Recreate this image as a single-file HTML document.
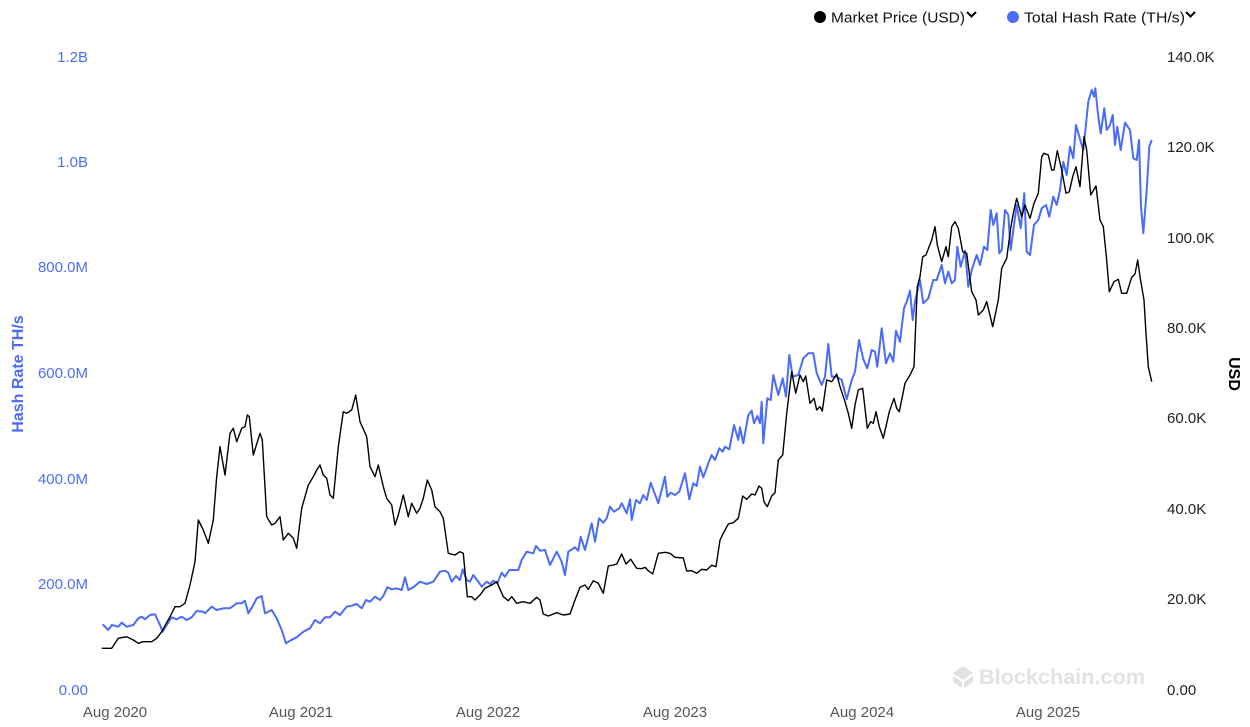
<!DOCTYPE html>
<html><head><meta charset="utf-8"><style>
html,body{margin:0;padding:0;background:#fff;}
svg{display:block;}
text{font-family:"Liberation Sans",sans-serif;}
</style></head><body>
<svg width="1250" height="727" viewBox="0 0 1250 727" xmlns="http://www.w3.org/2000/svg">
<rect width="1250" height="727" fill="#fff"/>
<!-- legend -->
<circle cx="820" cy="17" r="6" fill="#000"/>
<text x="831" y="22.5" font-size="15" fill="#111" textLength="134" lengthAdjust="spacingAndGlyphs">Market Price (USD)</text>
<polyline points="967,12 971.5,16.5 976,12" fill="none" stroke="#000" stroke-width="2"/>
<circle cx="1013" cy="17" r="6" fill="#4a6cf7"/>
<text x="1024" y="22.5" font-size="15" fill="#111" textLength="161" lengthAdjust="spacingAndGlyphs">Total Hash Rate (TH/s)</text>
<polyline points="1186,12 1190.5,16.5 1195,12" fill="none" stroke="#000" stroke-width="2"/>
<!-- left axis -->
<g font-size="15" fill="#4e6ef5" text-anchor="end">
<text x="88" y="62">1.2B</text>
<text x="88" y="167">1.0B</text>
<text x="88" y="272">800.0M</text>
<text x="88" y="378">600.0M</text>
<text x="88" y="484">400.0M</text>
<text x="88" y="589">200.0M</text>
<text x="88" y="695">0.00</text>
</g>
<text transform="translate(23,374) rotate(-90)" font-size="16" font-weight="bold" fill="#4a6cf7" text-anchor="middle">Hash Rate TH/s</text>
<!-- right axis -->
<g font-size="15" fill="#222">
<text x="1167" y="62">140.0K</text>
<text x="1167" y="152">120.0K</text>
<text x="1167" y="243">100.0K</text>
<text x="1167" y="333">80.0K</text>
<text x="1167" y="423">60.0K</text>
<text x="1167" y="514">40.0K</text>
<text x="1167" y="604">20.0K</text>
<text x="1167" y="695">0.00</text>
</g>
<text transform="translate(1229,374) rotate(90)" font-size="16" font-weight="bold" fill="#000" text-anchor="middle">USD</text>
<!-- x axis -->
<g font-size="15" fill="#555" text-anchor="middle">
<text x="115" y="717">Aug 2020</text>
<text x="301" y="717">Aug 2021</text>
<text x="488" y="717">Aug 2022</text>
<text x="675" y="717">Aug 2023</text>
<text x="862" y="717">Aug 2024</text>
<text x="1048" y="717">Aug 2025</text>
</g>
<!-- watermark -->
<g fill="#e2e2e2">
<polygon points="963,666 973,673 963,680 953,673"/>
<polygon points="953,676 962,682 962,688 953,682"/>
<polygon points="973,676 964,682 964,688 973,682"/>
</g>
<text x="979" y="684" font-size="21" font-weight="bold" fill="#e2e2e2" textLength="166" lengthAdjust="spacingAndGlyphs">Blockchain.com</text>
<!-- hash rate -->
<polyline fill="none" stroke="#4a6cf7" stroke-width="2" stroke-linejoin="round" points="102.7,624.3 108.3,630 111.7,625 118.3,626.7 121.7,622.7 126.7,626.7 133.3,625 138.3,618.3 141.7,616.7 145,619.3 150,615 155,614.3 160,625 162.7,631.7 166.7,625 171.7,617.3 176.7,619.3 181.7,616.7 186.7,620 191.7,617.3 196.7,611 203.3,611.7 205,613.3 211.7,606.7 216.7,610 223.3,608.3 230,608.3 236.7,603.3 241.7,603.3 245,600.7 248.3,613.3 253.3,605 256.7,598.3 261.7,596 265,613.3 271.7,610 276.7,618.3 281.7,630 286,643.3 290,640.7 296.7,637.3 303.3,631.7 310,628.3 315,620 320,623.3 325,617.3 330,617.3 335,611.7 340,615 346.7,606.7 351.7,605.7 356.7,604 361.7,608.3 366,600 370,601.7 375,596.7 380,600 383.3,596 387.3,587.3 391.7,589.3 396.7,588.3 401.7,590 405,577.3 408.3,590 413.3,587.3 420,581.7 426.7,584 433.3,581.7 440,571.7 445,570.7 448.3,572.7 451.7,581.7 456,576 460,580 462.7,569.3 466.7,580 470,581.7 473.3,575 478.3,581.7 481.7,586.7 486.7,581.7 490,584 493.3,580.7 497.3,583.3 501.7,572.7 505,576.7 509.3,570 518.3,570 521.7,560 526.7,551.7 533.3,553.3 536,546 540,550.7 545,550 550,565 556.7,551.7 561.7,561.7 565,575 568.3,551.7 575,547.3 578.3,550.7 580.7,536.7 585,550 591.7,523.3 595,541.7 599,518.3 603.3,522.7 606.7,518.3 610,506.7 614,511.7 619.3,508.3 621.7,503.3 626.7,513.3 630,499.3 631.7,520 636,500 640,503.3 643.3,495 646.7,500 650.7,482.7 658.3,503.3 665,476.7 667.3,496.7 670.7,492.7 675,495 679.3,491.7 685,473.3 689.3,499.3 693.3,483.3 696.7,486 700,466.7 703.3,477.3 708.3,463.3 711.7,455 715,460 719.3,448.3 722.7,451.7 725,446.7 729.3,449.3 734,425 738.3,440 740,427.3 743.3,443.3 748.3,415 751.7,410.7 754,423.3 757.3,416 760,423.3 761.7,401.7 763.3,443.3 767.3,398.3 770.7,400 773.3,375 778.3,395 782.7,378.3 786,396.7 789.3,355 792.7,376.7 798.3,375 803.3,358.3 808.3,353.3 813.3,353.3 816.7,373.3 821.7,385 825,376.7 828.3,344 831.7,376.7 836.7,376.7 841.7,380 846.7,399.3 851.7,380 855,371.7 859,340 863.3,359.3 867.3,368.3 871.7,350 875,351.7 877.3,366.7 881.7,328.3 886,363.3 890,353.3 893.3,361.7 896,330.7 900,341.7 904,308.3 906.7,301.7 910,290.7 912.7,320 915,301.7 920,280 923.3,303.3 928.3,298.3 933.3,280 936.7,280 941.7,265 945,283.3 948.3,271.7 951.7,283.3 955,280 957.3,246.7 960.7,266.7 965,250.7 968.3,286.7 971.7,270 976.7,255 980,265 984,246.7 987.3,250 990.7,210 993.3,225 996.7,213.3 999.3,253.3 1001.7,250 1005,210 1008.3,215 1010.7,250 1013.3,230 1016.7,205 1020.7,228.3 1024.3,193.3 1026.7,251.7 1030,255 1034,225 1038.3,220 1041.7,208.3 1046,205 1049.3,216.7 1053.3,196.7 1056.7,205 1060,190 1063.3,161.7 1066.7,175 1070,146.7 1073.3,158.3 1076,125 1079.3,136.7 1083.3,150 1088.3,101.7 1091.7,90 1094,96.7 1095.3,88.3 1098.3,116.7 1100.7,133.3 1104.3,108.3 1106.7,130 1110,125 1112.7,115 1115,145 1117.3,126.7 1120.7,150 1125,122.7 1130,130 1133.3,158.3 1136.7,160 1139,140 1141,206.7 1143.3,233.3 1146.7,190 1149.3,146.7 1151.7,140"/>
<!-- market price -->
<polyline fill="none" stroke="#000" stroke-width="1.4" stroke-linejoin="round" points="101.7,648.3 111.7,648.3 118.3,638.3 126.7,636.7 133.3,640 138.3,643.3 143.3,641.7 151.7,641.7 156.7,638.3 161.7,631.7 170,616.7 175,606.7 180,606.7 185,603.3 190,585 195,561.7 198.3,520 203.3,530 208.3,543.3 213.3,520 216.7,476.7 220,446.7 225,475 230,433.3 233.3,428.3 236.7,441.7 241.7,428.3 245,426.7 247.3,415 249.3,416.7 253.3,455 260,433.3 262.3,440 266.7,516.7 271.7,525 275,523.3 280,516.7 283.3,540 288.3,533.3 293.3,538.3 296.7,548.3 301.7,508.3 308.3,485 313.3,476.7 316.7,470 320,465 323.3,475 326.7,478.3 330,495 333.3,498.3 338.3,446.7 343.3,411.7 346.7,413.3 351.7,410 355.7,395 360,421.7 366.7,436.7 370,466.7 375,476.7 378.3,465 383.3,486.7 386.7,498.3 391.7,505 395,525 398.3,515 403.3,495 408.3,516.7 411.7,503.3 416.7,513.3 420,508.3 423.3,498.3 427.3,480 431.7,490 435,506.7 440,511.7 443.3,518.3 448.3,553.3 455,555 460,551.7 463.3,553.3 467.3,596.7 471.7,596.7 475,600 480,595 485,588.3 491.7,585 496.7,581.7 503.3,596.7 508.3,600.7 511.7,596.7 516.7,603.3 523.3,601.7 530,603.3 536.7,597.3 540,600 543.3,614 548.3,616 556.7,612.7 563.3,615 570,614 575,600 580,587.3 585,585 588.3,589.3 593.3,580.7 598.3,583.3 603.3,593.3 608.3,566 613.3,565 616.7,564 621.7,554 626,564 630.7,559.3 636.7,568.3 641.7,568.7 645,567.3 648.3,570.7 652.7,574 658.3,553.3 665,552.3 670,553.3 675,557.3 683.3,558 686.7,571 691.7,570.7 696.7,573.3 701.7,569.3 706.7,570 711.7,565.3 716,566.7 720,540 723.3,533.3 728.3,524 733.3,522.7 738.3,518.3 742.7,496 746.7,499.3 751.7,494 755,495 759,486 761.7,488.3 764,501.7 767.3,506.7 771.7,496 775,492.7 778.3,460 782.7,455 786.7,413.3 791.7,371.7 795.7,393.3 800,375 803.3,381.7 805.7,376 810,403.3 814,398.3 816.7,410 820,406.7 822.3,411 826.7,380 831.7,381.7 836.7,374 840,386.7 845,401.7 848.3,413.3 851.7,428.3 855,405 858.3,390 862.7,388.3 867.3,428.3 870.7,421.7 873.3,423.3 876,411.7 879.3,426.7 883.3,438.3 889.3,411.7 894,398.3 896.7,408.3 899.3,411.7 905,383.3 910,375 914,366.7 917.3,286.7 920,276.7 922.7,256.7 926,255 931.7,240 935,226.7 937.3,245 941.7,261.7 946,246.7 948.3,256.7 951.7,226.7 955,221.7 958.3,228.3 962.7,251.7 966.7,253.3 971.7,291.7 976,300 978.3,315 983.3,310 986.7,301.7 992.7,326.7 998.3,300 1001.7,268.3 1006.7,258.3 1010.7,228.3 1013.3,213.3 1016.7,198.3 1021.7,216.7 1025,205 1030,218.3 1034,203.3 1038.3,193.3 1041.7,156.7 1044,153.3 1048.3,155 1051.7,170 1054,170 1057.3,150.7 1061.7,170 1066,193.3 1069.3,191.7 1072.7,176.7 1076,166.7 1080,186.7 1084,136.7 1086.7,150 1090.7,195 1096,186 1100,220 1103.3,226.7 1106.7,260 1109.3,291.7 1114,281.7 1118.3,279.3 1121.7,293.3 1126.7,293.3 1131.7,277.3 1135,274 1137.7,260 1140,276.7 1144,300 1146,333.3 1148.3,366.7 1151.7,381.7"/>
</svg>
</body></html>
